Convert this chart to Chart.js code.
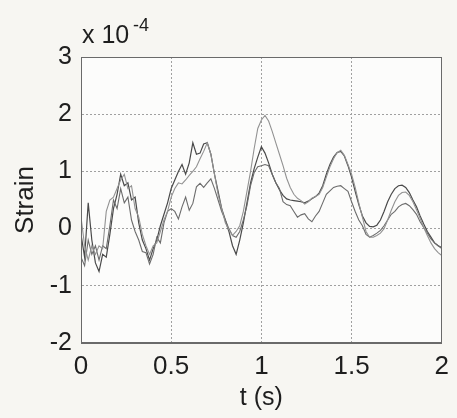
<!DOCTYPE html>
<html>
<head>
<meta charset="utf-8">
<script src="https://cdn.jsdelivr.net/npm/chart.js@4.4.0/dist/chart.umd.min.js"></script>
<style>
  html, body { margin: 0; padding: 0; background: #f7f6f2; }
  canvas { display: block; }
</style>
</head>
<body>
<canvas id="c" width="457" height="418"></canvas>
<script>
// time (s)
const time = [
  0.00,0.02,0.04,0.06,0.08,0.10,0.12,0.14,0.16,0.18,
  0.20,0.22,0.24,0.26,0.28,0.30,0.32,0.34,0.36,0.38,
  0.40,0.42,0.44,0.46,0.48,0.50,0.52,0.54,0.56,0.58,
  0.60,0.62,0.64,0.66,0.68,0.70,0.72,0.74,0.76,0.78,
  0.80,0.82,0.84,0.86,0.88,0.90,0.92,0.94,0.96,0.98,
  1.00,1.02,1.04,1.06,1.08,1.10,1.12,1.14,1.16,1.18,
  1.20,1.22,1.24,1.26,1.28,1.30,1.32,1.34,1.36,1.38,
  1.40,1.42,1.44,1.46,1.48,1.50,1.52,1.54,1.56,1.58,
  1.60,1.62,1.64,1.66,1.68,1.70,1.72,1.74,1.76,1.78,
  1.80,1.82,1.84,1.86,1.88,1.90,1.92,1.94,1.96,1.98,
  2.00
];
// strain, in units of 1e-4
const strainDark = [
  -0.10,-0.50,0.45,-0.20,-0.60,-0.75,-0.45,-0.50,-0.10,0.35,
  0.60,0.95,0.75,0.80,0.50,0.55,0.10,-0.20,-0.35,-0.55,
  -0.35,-0.20,0.05,0.25,0.45,0.70,0.85,1.00,1.12,0.95,
  1.15,1.50,1.30,1.32,1.48,1.50,1.30,0.95,0.65,0.35,
  0.15,-0.05,-0.30,-0.45,-0.20,0.10,0.45,0.80,1.05,1.25,
  1.43,1.32,1.15,0.95,0.80,0.68,0.58,0.52,0.50,0.49,
  0.48,0.47,0.45,0.48,0.52,0.56,0.62,0.75,0.95,1.12,
  1.25,1.33,1.35,1.27,1.10,0.90,0.65,0.42,0.22,0.10,
  0.04,0.03,0.06,0.15,0.30,0.47,0.60,0.70,0.75,0.76,
  0.72,0.63,0.50,0.38,0.22,0.08,-0.05,-0.15,-0.25,-0.30,
  -0.33
];
const strainLight = [
  0.20,-0.30,-0.55,-0.30,-0.45,-0.30,-0.35,0.30,0.50,0.55,
  0.70,0.85,0.95,0.70,0.75,0.35,0.20,-0.10,-0.30,-0.45,
  -0.30,-0.25,-0.05,0.15,0.30,0.55,0.70,0.80,0.78,0.85,
  0.93,1.00,1.08,1.22,1.35,1.50,1.30,0.95,0.60,0.35,
  0.10,-0.02,-0.12,-0.05,0.05,0.30,0.65,1.00,1.40,1.75,
  1.90,1.98,1.88,1.70,1.50,1.30,1.10,0.88,0.72,0.60,
  0.53,0.49,0.43,0.47,0.53,0.56,0.60,0.72,0.90,1.08,
  1.22,1.33,1.37,1.28,1.12,0.95,0.72,0.45,0.20,-0.05,
  -0.15,-0.15,-0.12,-0.08,0.00,0.15,0.32,0.47,0.58,0.63,
  0.64,0.58,0.47,0.33,0.18,0.02,-0.12,-0.25,-0.35,-0.42,
  -0.47
];
const strainMid = [
  -0.50,-0.65,-0.20,-0.45,-0.30,-0.55,-0.30,-0.35,0.05,0.50,
  0.35,0.70,0.45,0.55,0.15,-0.05,-0.20,-0.40,-0.42,-0.62,
  -0.45,-0.15,-0.25,0.10,0.30,0.35,0.30,0.17,0.38,0.55,
  0.32,0.44,0.73,0.79,0.72,0.80,0.87,0.70,0.50,0.30,
  0.15,0.00,-0.12,-0.15,-0.05,0.15,0.40,0.75,0.98,1.08,
  1.10,1.12,1.10,0.95,0.80,0.70,0.47,0.42,0.40,0.30,
  0.20,0.24,0.26,0.17,0.12,0.22,0.30,0.45,0.60,0.66,
  0.72,0.74,0.75,0.70,0.65,0.47,0.30,0.15,0.05,-0.10,
  -0.15,-0.12,-0.08,-0.03,0.05,0.15,0.25,0.30,0.38,0.42,
  0.44,0.40,0.33,0.25,0.12,0.02,-0.08,-0.18,-0.25,-0.30,
  -0.35
];
const xTicks = [0, 0.5, 1, 1.5, 2];
const yTicks = [-2, -1, 0, 1, 2, 3];

const FONT = "'Liberation Sans', Arial, Helvetica, sans-serif";

function pts(arr) { return time.map((t, i) => ({ x: t, y: arr[i] })); }

const decor = {
  id: 'decor',
  beforeDraw(chart) {
    const { ctx, chartArea: a } = chart;
    ctx.save();
    ctx.fillStyle = '#f7f6f2';
    ctx.fillRect(0, 0, chart.width, chart.height);
    ctx.fillStyle = '#fcfcfb';
    ctx.fillRect(a.left, a.top, a.right - a.left, a.bottom - a.top);
    ctx.restore();
  },
  afterDraw(chart) {
    const { ctx, chartArea: a } = chart;
    ctx.save();
    ctx.strokeStyle = '#6a6a6a';
    ctx.lineWidth = 1;
    ctx.strokeRect(Math.round(a.left) + 0.5, Math.round(a.top) + 0.5,
      Math.round(a.right - a.left) - 1, Math.round(a.bottom - a.top) - 1);
    ctx.fillStyle = '#1e1e1e';
    ctx.textBaseline = 'alphabetic';
    ctx.textAlign = 'left';
    ctx.font = '25px ' + FONT;
    ctx.fillText('x 10', 82, 43);
    ctx.font = '18px ' + FONT;
    ctx.fillText('-4', 133, 31);
    ctx.restore();
  }
};

new Chart(document.getElementById('c'), {
  type: 'line',
  data: {
    datasets: [
      { data: pts(strainLight), borderColor: '#929292', borderWidth: 1.1 },
      { data: pts(strainMid), borderColor: '#6c6c6c', borderWidth: 1.1 },
      { data: pts(strainDark), borderColor: '#4a4a4a', borderWidth: 1.2 }
    ]
  },
  options: {
    responsive: false,
    animation: false,
    devicePixelRatio: 1,
    layout: { padding: { left: 0, top: 57, right: 14, bottom: 0 } },
    elements: { point: { radius: 0 }, line: { tension: 0 } },
    plugins: { legend: { display: false }, tooltip: { enabled: false } },
    scales: {
      x: {
        type: 'linear', min: 0, max: 2,
        afterBuildTicks(s) { s.ticks = xTicks.map(v => ({ value: v })); },
        afterFit(s) { s.height = 75; },
        ticks: { color: '#1e1e1e', padding: 8, maxRotation: 0,
          font: { family: FONT, size: 26, lineHeight: 1.2 },
          callback: v => String(v) },
        grid: { color: '#a0a0a0', lineWidth: 1, drawTicks: false },
        border: { display: true, color: '#6a6a6a', dash: [2, 2] },
        title: { display: true, text: 't (s)', color: '#1e1e1e',
          font: { family: FONT, size: 25, lineHeight: 1.2 }, padding: { top: 0, bottom: 5 } }
      },
      y: {
        min: -2, max: 3,
        afterBuildTicks(s) { s.ticks = yTicks.map(v => ({ value: v })); },
        afterFit(s) { s.width = 81; },
        ticks: { color: '#1e1e1e', padding: 9,
          font: { family: FONT, size: 25, lineHeight: 1.2 },
          callback: v => String(v) },
        grid: { color: '#a0a0a0', lineWidth: 1, drawTicks: false },
        border: { display: true, color: '#6a6a6a', dash: [2, 2] },
        title: { display: true, text: 'Strain', color: '#1e1e1e',
          font: { family: FONT, size: 26, lineHeight: 1.2 }, padding: { top: 10, bottom: 0 } }
      }
    }
  },
  plugins: [decor]
});
</script>
</body>
</html>
